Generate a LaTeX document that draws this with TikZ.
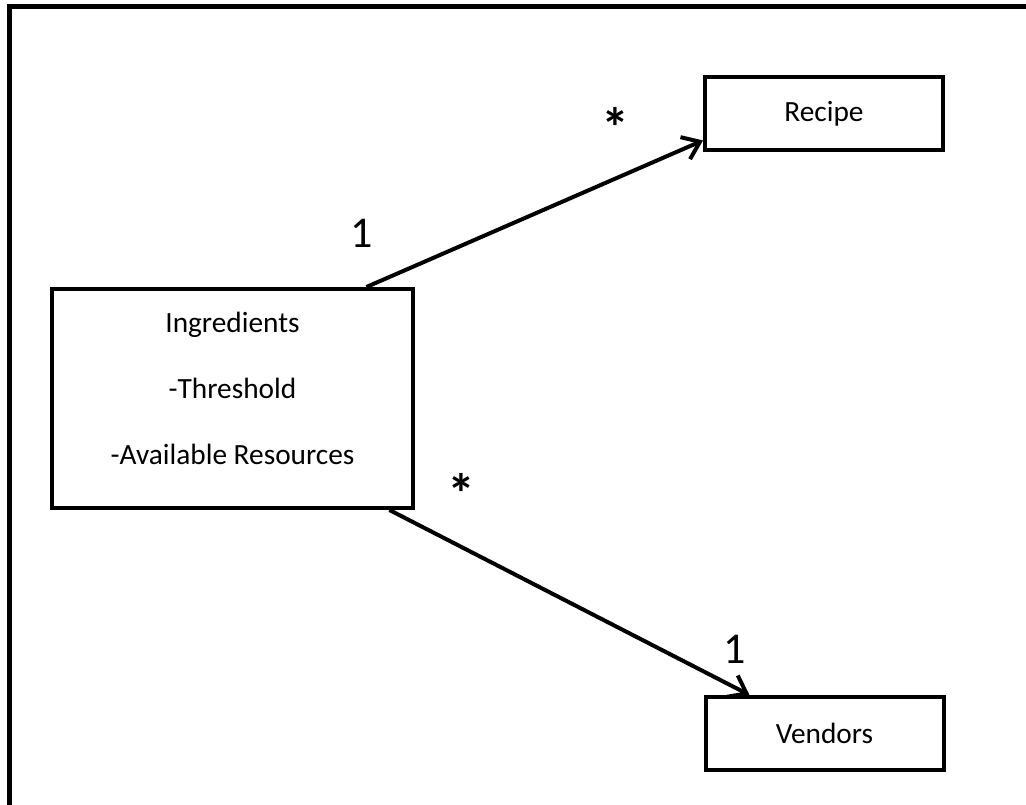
\documentclass[tikz,border=0pt]{standalone}
\usepackage{fontspec}
\setmainfont{Carlito}
\usetikzlibrary{arrows.meta,positioning,calc}

\tikzset{
  classbox/.style={draw, line width=3pt, font=\fontsize{22}{26}\selectfont, inner sep=0pt},
  mult/.style={font=\fontsize{33}{36}\selectfont, inner sep=0pt},
  star/.style={font=\fontsize{42}{42}\selectfont\bfseries, inner sep=0pt},
  assoc/.style={line width=3pt, -{Straight Barb[length=12pt,width=18pt]}},
}

\begin{document}
\begin{tikzpicture}[x=0.75pt,y=-0.75pt]
    \useasboundingbox (0,0) rectangle (1026,805);
    \clip (0,0) rectangle (1026,805);

    % Page frame (only top and left edges show)
    \draw[line width=3.75pt] (9.5,830) -- (9.5,6.5) -- (1050,6.5);

    % Classes
    \node[classbox, minimum width=270.75pt, minimum height=164.25pt] (ingr) at (232.5,398.5) {};
    \node[font=\fontsize{22}{49.5}\selectfont, align=center] (ingrtxt) at (232.5,388)
        {Ingredients\\-Threshold\\-Available Resources};
    \node[classbox, minimum width=178.5pt, minimum height=54.75pt] (rec) at (824,113.5) {Recipe};
    \node[classbox, minimum width=178.5pt, minimum height=54.75pt] (vend) at (824.5,733.5) {Vendors};

    % Associations
    \draw[assoc] ($(ingr.north west)!0.867!(ingr.north east)$) -- ($(rec.north west)!0.85!(rec.south west)$);
    \draw[assoc] ($(ingr.south west)!0.93!(ingr.south east)$) -- ($(vend.north west)!0.19!(vend.north east)$);

    % Multiplicities
    \node[mult] (m1) at (362,233) {1};
    \node[star] (m2) at (615,127) {*};
    \node[star] (m3) at (461,493) {*};
    \node[mult] (m4) at (735,649) {1};
\end{tikzpicture}
\end{document}
